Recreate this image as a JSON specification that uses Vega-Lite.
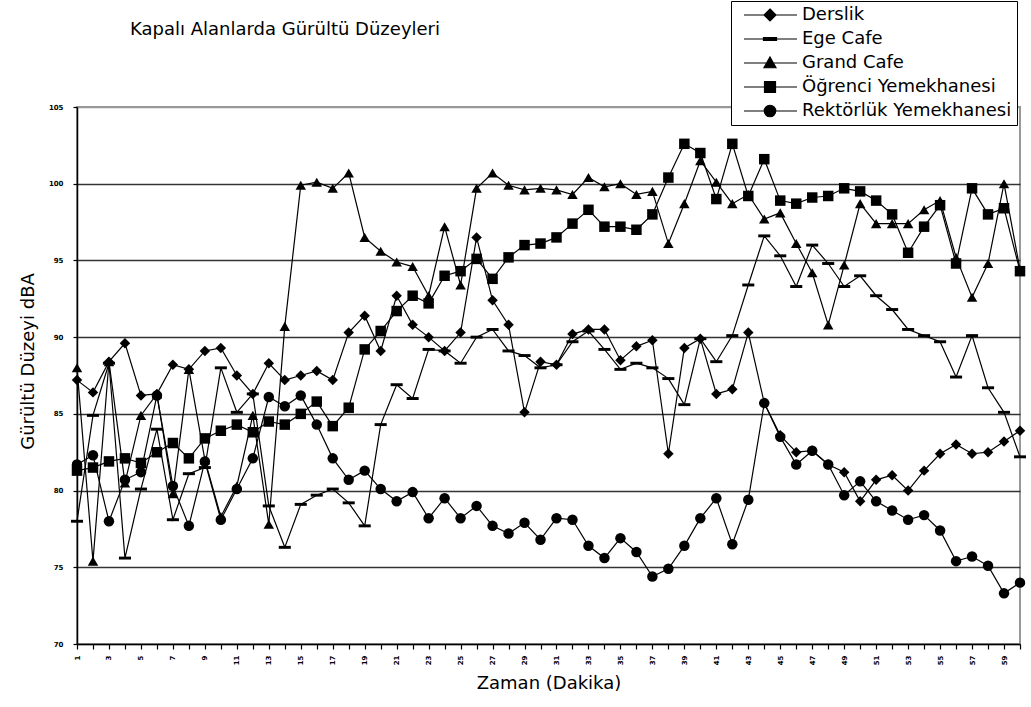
{
  "$schema": "https://vega.github.io/schema/vega-lite/v6.json",
  "width": 943,
  "height": 537,
  "autosize": {"type": "none"},
  "padding": {"left": 77, "top": 107, "right": 11, "bottom": 63},
  "background": "white",
  "config": {"view": {"stroke": "#999", "strokeWidth": 2}, "font": "DejaVu Sans"},
  "title": {"text": "Kapalı Alanlarda Gürültü Düzeyleri", "anchor": "start", "frame": "group", "dx": 53, "offset": 0, "dy": 52, "baseline": "alphabetic", "font": "DejaVu Sans", "fontSize": 18, "fontWeight": "normal", "color": "black"},
  "data": {"values": [
    {"dakika": 1, "Derslik": 87.2, "Ege Cafe": 78.0, "Grand Cafe": 88.0, "Öğrenci Yemekhanesi": 81.3, "Rektörlük Yemekhanesi": 81.7},
    {"dakika": 2, "Derslik": 86.4, "Ege Cafe": 84.9, "Grand Cafe": 75.4, "Öğrenci Yemekhanesi": 81.5, "Rektörlük Yemekhanesi": 82.3},
    {"dakika": 3, "Derslik": 88.4, "Ege Cafe": 88.3, "Grand Cafe": 88.4, "Öğrenci Yemekhanesi": 81.9, "Rektörlük Yemekhanesi": 78.0},
    {"dakika": 4, "Derslik": 89.6, "Ege Cafe": 75.6, "Grand Cafe": 80.5, "Öğrenci Yemekhanesi": 82.1, "Rektörlük Yemekhanesi": 80.7},
    {"dakika": 5, "Derslik": 86.2, "Ege Cafe": 80.1, "Grand Cafe": 84.9, "Öğrenci Yemekhanesi": 81.8, "Rektörlük Yemekhanesi": 81.2},
    {"dakika": 6, "Derslik": 86.3, "Ege Cafe": 84.0, "Grand Cafe": 86.3, "Öğrenci Yemekhanesi": 82.5, "Rektörlük Yemekhanesi": 86.2},
    {"dakika": 7, "Derslik": 88.2, "Ege Cafe": 78.1, "Grand Cafe": 79.8, "Öğrenci Yemekhanesi": 83.1, "Rektörlük Yemekhanesi": 80.3},
    {"dakika": 8, "Derslik": 87.9, "Ege Cafe": 81.1, "Grand Cafe": 87.9, "Öğrenci Yemekhanesi": 82.1, "Rektörlük Yemekhanesi": 77.7},
    {"dakika": 9, "Derslik": 89.1, "Ege Cafe": 81.5, "Grand Cafe": 82.0, "Öğrenci Yemekhanesi": 83.4, "Rektörlük Yemekhanesi": 81.9},
    {"dakika": 10, "Derslik": 89.3, "Ege Cafe": 88.0, "Grand Cafe": 78.3, "Öğrenci Yemekhanesi": 83.9, "Rektörlük Yemekhanesi": 78.1},
    {"dakika": 11, "Derslik": 87.5, "Ege Cafe": 85.1, "Grand Cafe": 80.3, "Öğrenci Yemekhanesi": 84.3, "Rektörlük Yemekhanesi": 80.1},
    {"dakika": 12, "Derslik": 86.3, "Ege Cafe": 86.3, "Grand Cafe": 84.9, "Öğrenci Yemekhanesi": 83.8, "Rektörlük Yemekhanesi": 82.1},
    {"dakika": 13, "Derslik": 88.3, "Ege Cafe": 79.0, "Grand Cafe": 77.8, "Öğrenci Yemekhanesi": 84.5, "Rektörlük Yemekhanesi": 86.1},
    {"dakika": 14, "Derslik": 87.2, "Ege Cafe": 76.3, "Grand Cafe": 90.7, "Öğrenci Yemekhanesi": 84.3, "Rektörlük Yemekhanesi": 85.5},
    {"dakika": 15, "Derslik": 87.5, "Ege Cafe": 79.1, "Grand Cafe": 99.9, "Öğrenci Yemekhanesi": 85.0, "Rektörlük Yemekhanesi": 86.2},
    {"dakika": 16, "Derslik": 87.8, "Ege Cafe": 79.7, "Grand Cafe": 100.1, "Öğrenci Yemekhanesi": 85.8, "Rektörlük Yemekhanesi": 84.3},
    {"dakika": 17, "Derslik": 87.2, "Ege Cafe": 80.1, "Grand Cafe": 99.7, "Öğrenci Yemekhanesi": 84.2, "Rektörlük Yemekhanesi": 82.1},
    {"dakika": 18, "Derslik": 90.3, "Ege Cafe": 79.2, "Grand Cafe": 100.7, "Öğrenci Yemekhanesi": 85.4, "Rektörlük Yemekhanesi": 80.7},
    {"dakika": 19, "Derslik": 91.4, "Ege Cafe": 77.7, "Grand Cafe": 96.5, "Öğrenci Yemekhanesi": 89.2, "Rektörlük Yemekhanesi": 81.3},
    {"dakika": 20, "Derslik": 89.1, "Ege Cafe": 84.3, "Grand Cafe": 95.6, "Öğrenci Yemekhanesi": 90.4, "Rektörlük Yemekhanesi": 80.1},
    {"dakika": 21, "Derslik": 92.7, "Ege Cafe": 86.9, "Grand Cafe": 94.9, "Öğrenci Yemekhanesi": 91.7, "Rektörlük Yemekhanesi": 79.3},
    {"dakika": 22, "Derslik": 90.8, "Ege Cafe": 86.0, "Grand Cafe": 94.6, "Öğrenci Yemekhanesi": 92.7, "Rektörlük Yemekhanesi": 79.9},
    {"dakika": 23, "Derslik": 90.0, "Ege Cafe": 89.2, "Grand Cafe": 92.7, "Öğrenci Yemekhanesi": 92.2, "Rektörlük Yemekhanesi": 78.2},
    {"dakika": 24, "Derslik": 89.1, "Ege Cafe": 89.1, "Grand Cafe": 97.2, "Öğrenci Yemekhanesi": 94.0, "Rektörlük Yemekhanesi": 79.5},
    {"dakika": 25, "Derslik": 90.3, "Ege Cafe": 88.3, "Grand Cafe": 93.4, "Öğrenci Yemekhanesi": 94.3, "Rektörlük Yemekhanesi": 78.2},
    {"dakika": 26, "Derslik": 96.5, "Ege Cafe": 90.0, "Grand Cafe": 99.7, "Öğrenci Yemekhanesi": 95.1, "Rektörlük Yemekhanesi": 79.0},
    {"dakika": 27, "Derslik": 92.4, "Ege Cafe": 90.5, "Grand Cafe": 100.7, "Öğrenci Yemekhanesi": 93.8, "Rektörlük Yemekhanesi": 77.7},
    {"dakika": 28, "Derslik": 90.8, "Ege Cafe": 89.1, "Grand Cafe": 99.9, "Öğrenci Yemekhanesi": 95.2, "Rektörlük Yemekhanesi": 77.2},
    {"dakika": 29, "Derslik": 85.1, "Ege Cafe": 88.8, "Grand Cafe": 99.6, "Öğrenci Yemekhanesi": 96.0, "Rektörlük Yemekhanesi": 77.9},
    {"dakika": 30, "Derslik": 88.4, "Ege Cafe": 88.0, "Grand Cafe": 99.7, "Öğrenci Yemekhanesi": 96.1, "Rektörlük Yemekhanesi": 76.8},
    {"dakika": 31, "Derslik": 88.2, "Ege Cafe": 88.2, "Grand Cafe": 99.6, "Öğrenci Yemekhanesi": 96.5, "Rektörlük Yemekhanesi": 78.2},
    {"dakika": 32, "Derslik": 90.2, "Ege Cafe": 89.7, "Grand Cafe": 99.3, "Öğrenci Yemekhanesi": 97.4, "Rektörlük Yemekhanesi": 78.1},
    {"dakika": 33, "Derslik": 90.5, "Ege Cafe": 90.4, "Grand Cafe": 100.4, "Öğrenci Yemekhanesi": 98.3, "Rektörlük Yemekhanesi": 76.4},
    {"dakika": 34, "Derslik": 90.5, "Ege Cafe": 89.2, "Grand Cafe": 99.8, "Öğrenci Yemekhanesi": 97.2, "Rektörlük Yemekhanesi": 75.6},
    {"dakika": 35, "Derslik": 88.5, "Ege Cafe": 87.9, "Grand Cafe": 100.0, "Öğrenci Yemekhanesi": 97.2, "Rektörlük Yemekhanesi": 76.9},
    {"dakika": 36, "Derslik": 89.4, "Ege Cafe": 88.3, "Grand Cafe": 99.3, "Öğrenci Yemekhanesi": 97.0, "Rektörlük Yemekhanesi": 76.0},
    {"dakika": 37, "Derslik": 89.8, "Ege Cafe": 88.0, "Grand Cafe": 99.5, "Öğrenci Yemekhanesi": 98.0, "Rektörlük Yemekhanesi": 74.4},
    {"dakika": 38, "Derslik": 82.4, "Ege Cafe": 87.3, "Grand Cafe": 96.1, "Öğrenci Yemekhanesi": 100.4, "Rektörlük Yemekhanesi": 74.9},
    {"dakika": 39, "Derslik": 89.3, "Ege Cafe": 85.6, "Grand Cafe": 98.7, "Öğrenci Yemekhanesi": 102.6, "Rektörlük Yemekhanesi": 76.4},
    {"dakika": 40, "Derslik": 89.9, "Ege Cafe": 89.9, "Grand Cafe": 101.5, "Öğrenci Yemekhanesi": 102.0, "Rektörlük Yemekhanesi": 78.2},
    {"dakika": 41, "Derslik": 86.3, "Ege Cafe": 88.4, "Grand Cafe": 100.1, "Öğrenci Yemekhanesi": 99.0, "Rektörlük Yemekhanesi": 79.5},
    {"dakika": 42, "Derslik": 86.6, "Ege Cafe": 90.1, "Grand Cafe": 98.7, "Öğrenci Yemekhanesi": 102.6, "Rektörlük Yemekhanesi": 76.5},
    {"dakika": 43, "Derslik": 90.3, "Ege Cafe": 93.4, "Grand Cafe": 99.3, "Öğrenci Yemekhanesi": 99.2, "Rektörlük Yemekhanesi": 79.4},
    {"dakika": 44, "Derslik": 85.7, "Ege Cafe": 96.6, "Grand Cafe": 97.7, "Öğrenci Yemekhanesi": 101.6, "Rektörlük Yemekhanesi": 85.7},
    {"dakika": 45, "Derslik": 83.6, "Ege Cafe": 95.3, "Grand Cafe": 98.1, "Öğrenci Yemekhanesi": 98.9, "Rektörlük Yemekhanesi": 83.5},
    {"dakika": 46, "Derslik": 82.5, "Ege Cafe": 93.3, "Grand Cafe": 96.1, "Öğrenci Yemekhanesi": 98.7, "Rektörlük Yemekhanesi": 81.7},
    {"dakika": 47, "Derslik": 82.6, "Ege Cafe": 96.0, "Grand Cafe": 94.2, "Öğrenci Yemekhanesi": 99.1, "Rektörlük Yemekhanesi": 82.6},
    {"dakika": 48, "Derslik": 81.7, "Ege Cafe": 94.8, "Grand Cafe": 90.8, "Öğrenci Yemekhanesi": 99.2, "Rektörlük Yemekhanesi": 81.7},
    {"dakika": 49, "Derslik": 81.2, "Ege Cafe": 93.3, "Grand Cafe": 94.7, "Öğrenci Yemekhanesi": 99.7, "Rektörlük Yemekhanesi": 79.7},
    {"dakika": 50, "Derslik": 79.3, "Ege Cafe": 94.0, "Grand Cafe": 98.7, "Öğrenci Yemekhanesi": 99.5, "Rektörlük Yemekhanesi": 80.6},
    {"dakika": 51, "Derslik": 80.7, "Ege Cafe": 92.7, "Grand Cafe": 97.4, "Öğrenci Yemekhanesi": 98.9, "Rektörlük Yemekhanesi": 79.3},
    {"dakika": 52, "Derslik": 81.0, "Ege Cafe": 91.8, "Grand Cafe": 97.4, "Öğrenci Yemekhanesi": 98.0, "Rektörlük Yemekhanesi": 78.7},
    {"dakika": 53, "Derslik": 80.0, "Ege Cafe": 90.5, "Grand Cafe": 97.4, "Öğrenci Yemekhanesi": 95.5, "Rektörlük Yemekhanesi": 78.1},
    {"dakika": 54, "Derslik": 81.3, "Ege Cafe": 90.1, "Grand Cafe": 98.3, "Öğrenci Yemekhanesi": 97.2, "Rektörlük Yemekhanesi": 78.4},
    {"dakika": 55, "Derslik": 82.4, "Ege Cafe": 89.7, "Grand Cafe": 98.9, "Öğrenci Yemekhanesi": 98.6, "Rektörlük Yemekhanesi": 77.4},
    {"dakika": 56, "Derslik": 83.0, "Ege Cafe": 87.4, "Grand Cafe": 95.2, "Öğrenci Yemekhanesi": 94.8, "Rektörlük Yemekhanesi": 75.4},
    {"dakika": 57, "Derslik": 82.4, "Ege Cafe": 90.1, "Grand Cafe": 92.6, "Öğrenci Yemekhanesi": 99.7, "Rektörlük Yemekhanesi": 75.7},
    {"dakika": 58, "Derslik": 82.5, "Ege Cafe": 86.7, "Grand Cafe": 94.8, "Öğrenci Yemekhanesi": 98.0, "Rektörlük Yemekhanesi": 75.1},
    {"dakika": 59, "Derslik": 83.2, "Ege Cafe": 85.1, "Grand Cafe": 100.0, "Öğrenci Yemekhanesi": 98.4, "Rektörlük Yemekhanesi": 73.3},
    {"dakika": 60, "Derslik": 83.9, "Ege Cafe": 82.2, "Grand Cafe": 94.4, "Öğrenci Yemekhanesi": 94.3, "Rektörlük Yemekhanesi": 74.0}
  ]},
  "transform": [
    {"fold": ["Derslik", "Ege Cafe", "Grand Cafe", "Öğrenci Yemekhanesi", "Rektörlük Yemekhanesi"], "as": ["seri", "dBA"]}
  ],
  "encoding": {
    "x": {
      "field": "dakika", "type": "quantitative",
      "scale": {"domain": [1, 60], "nice": false, "zero": false},
      "axis": {
        "title": "Zaman (Dakika)",
        "values": [1,2,3,4,5,6,7,8,9,10,11,12,13,14,15,16,17,18,19,20,21,22,23,24,25,26,27,28,29,30,31,32,33,34,35,36,37,38,39,40,41,42,43,44,45,46,47,48,49,50,51,52,53,54,55,56,57,58,59,60],
        "labelExpr": "datum.value % 2 == 1 ? datum.label : ''",
        "labelAngle": -90,
        "labelAlign": "right",
        "labelBaseline": "middle",
        "labelFont": "DejaVu Sans", "labelFontSize": 7, "labelFontWeight": "bold", "labelColor": "black",
        "labelPadding": 6, "labelOverlap": false, "labelFlush": false, "labelBound": false,
        "tickSize": 5, "tickColor": "black", "tickWidth": 1.2,
        "domainColor": "black", "domainWidth": 1.5,
        "grid": false,
        "titleFont": "DejaVu Sans", "titleFontSize": 18, "titleFontWeight": "normal", "titleColor": "black",
        "titleY": 44, "titleBaseline": "alphabetic"
      }
    },
    "y": {
      "field": "dBA", "type": "quantitative",
      "scale": {"domain": [70, 105], "nice": false, "zero": false},
      "axis": {
        "title": "Gürültü Düzeyi dBA",
        "values": [70, 75, 80, 85, 90, 95, 100, 105],
        "grid": true,
        "gridColor": {"condition": {"test": "datum.value == 105 || datum.value == 70", "value": "#999"}, "value": "#333"},
        "gridWidth": 1.5,
        "labelFont": "DejaVu Sans", "labelFontSize": 7, "labelFontWeight": "bold", "labelColor": "black",
        "labelPadding": 10,
        "tickSize": 4, "tickColor": "black", "tickWidth": 1.2,
        "domainColor": "black", "domainWidth": 1.5,
        "titleFont": "DejaVu Sans", "titleFontSize": 18, "titleFontWeight": "normal", "titleColor": "black",
        "titleX": -40, "titleY": 254, "titleAngle": 270, "titleAlign": "center", "titleBaseline": "bottom"
      }
    }
  },
  "layer": [
    {
      "mark": {"type": "line", "strokeWidth": 1.2},
      "encoding": {
        "color": {
          "field": "seri", "type": "nominal",
          "scale": {
            "domain": ["Derslik", "Ege Cafe", "Grand Cafe", "Öğrenci Yemekhanesi", "Rektörlük Yemekhanesi"],
            "range": ["black", "black", "black", "black", "black"]
          },
          "legend": {
            "title": null,
            "orient": "none",
            "legendX": 654,
            "legendY": -106,
            "padding": 5,
            "strokeColor": "black",
            "fillColor": "white",
            "rowPadding": 6,
            "symbolSize": 100,
            "symbolOffset": 25,
            "labelOffset": 23,
            "symbolFillColor": "black",
            "symbolStrokeColor": "black",
            "symbolStrokeWidth": 1.2,
            "symbolType": {"expr": "datum.value === 'Derslik' ? 'M-5.2,0H5.4M0,-1.2L1.2,0L0,1.2L-1.2,0Z' : datum.value === 'Ege Cafe' ? 'M-5.2,0H5.4M-1.3,-0.3H1.3V0.3H-1.3Z' : datum.value === 'Grand Cafe' ? 'M-5.2,0H5.4M0,-1.2L1.2,0.95H-1.2Z' : datum.value === 'Öğrenci Yemekhanesi' ? 'M-5.2,0H5.4M-1.1,-1.1H1.1V1.1H-1.1Z' : 'M-5.2,0H5.4M1.15,0A1.15,1.15,0,1,1,-1.15,0A1.15,1.15,0,1,1,1.15,0Z'"},
            "labelFont": "DejaVu Sans",
            "labelFontSize": 18,
            "labelColor": "black",
            "labelLimit": 400
          }
        }
      }
    },
    {
      "transform": [{"filter": "datum.seri === 'Derslik'"}],
      "mark": {"type": "point", "shape": "diamond", "filled": true, "color": "black", "opacity": 1, "size": 110}
    },
    {
      "transform": [{"filter": "datum.seri === 'Ege Cafe'"}],
      "mark": {"type": "point", "shape": "M-1.15,-0.28H1.15V0.28H-1.15Z", "filled": true, "color": "black", "opacity": 1, "size": 110}
    },
    {
      "transform": [{"filter": "datum.seri === 'Grand Cafe'"}],
      "mark": {"type": "point", "shape": "triangle-up", "filled": true, "color": "black", "opacity": 1, "size": 110}
    },
    {
      "transform": [{"filter": "datum.seri === 'Öğrenci Yemekhanesi'"}],
      "mark": {"type": "point", "shape": "square", "filled": true, "color": "black", "opacity": 1, "size": 110}
    },
    {
      "transform": [{"filter": "datum.seri === 'Rektörlük Yemekhanesi'"}],
      "mark": {"type": "point", "shape": "circle", "filled": true, "color": "black", "opacity": 1, "size": 110}
    }
  ]
}
